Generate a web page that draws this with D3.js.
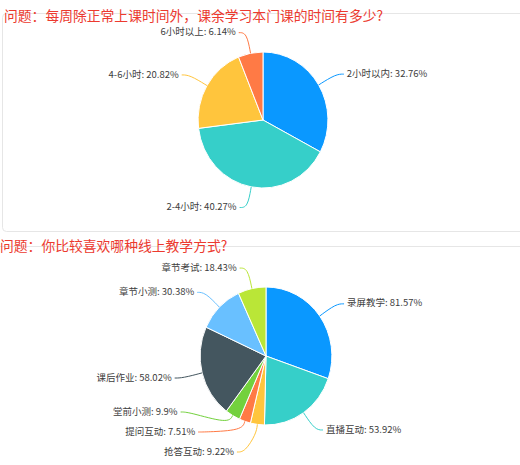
<!DOCTYPE html>
<html>
<head>
<meta charset="utf-8">
<script src="https://cdn.jsdelivr.net/npm/d3@7"></script>
<style>
  html, body { margin: 0; padding: 0; background: #fff; }
  svg { display: block; font-family: "Noto Sans CJK SC", "Noto Sans", sans-serif; }
</style>
</head>
<body>
<svg id="chart" width="520" height="465"></svg>
<script>
// question 1
const q1Title = "问题：每周除正常上课时间外，课余学习本门课的时间有多少?"
const q1Categories = ["2小时以内", "2-4小时", "4-6小时", "6小时以上"]
const q1Values = [32.76, 40.27, 20.82, 6.14]

// question 2
const q2Title = "问题：你比较喜欢哪种线上教学方式?"
const q2Categories = ["录屏教学", "直播互动", "抢答互动", "提问互动", "堂前小测", "课后作业", "章节小测", "章节考试"]
const q2Values = [81.57, 53.92, 9.22, 7.51, 9.9, 58.02, 30.38, 18.43]

const q1Colors = ["#0a98ff", "#36cfc9", "#ffc53d", "#ff7a45"]
const q2Colors = ["#0a98ff", "#36cfc9", "#ffc53d", "#ff7a45", "#73d13d", "#44565f", "#69c0ff", "#bae637"]

const svg = d3.select("#chart")

// panels
svg.append("rect").attr("x", 2.5).attr("y", 13.5).attr("width", 530).attr("height", 218)
  .attr("rx", 4).attr("fill", "none").attr("stroke", "#e6e6e6")
svg.append("rect").attr("x", -10).attr("y", 246.5).attr("width", 540).attr("height", 240)
  .attr("fill", "none").attr("stroke", "#e6e6e6")

// titles
svg.append("text").attr("x", 4).attr("y", 17).attr("dominant-baseline", "middle")
  .attr("font-size", 13.8).attr("fill", "#ec3a2f").text(q1Title)
svg.append("text").attr("x", 0).attr("y", 247).attr("dominant-baseline", "middle")
  .attr("font-size", 13.8).attr("fill", "#ec3a2f").text(q2Title)

function drawPie(cats, vals, colors, cx, cy, r, sx, yMax) {
  const data = cats.map((c, i) => ({ cat: c, v: vals[i], color: colors[i] }))
  const arcs = d3.pie().sort(null).value(d => d.v)(data)
  const arcGen = d3.arc().innerRadius(0).outerRadius(r)

  const g = svg.append("g").attr("transform", `translate(${cx},${cy}) scale(${sx},1)`)
  g.selectAll("path").data(arcs).join("path")
    .attr("d", arcGen)
    .attr("fill", d => d.data.color)
    .attr("stroke", "#fff").attr("stroke-width", 1)
    .attr("vector-effect", "non-scaling-stroke")

  // label layout (outside labels, pushed apart when they overlap)
  const len1 = 21, len2 = 8, gap = 20
  const R1 = r + len1, Rm = R1 + 8.5
  const labels = arcs.map(a => {
    const mid = (a.startAngle + a.endAngle) / 2
    const ux = Math.sin(mid), uy = -Math.cos(mid)
    return {
      d: a.data, ux, uy,
      side: ux >= 0 ? 1 : -1,
      p0: [cx + sx * r * ux, cy + r * uy],
      p1: [cx + sx * R1 * ux, cy + R1 * uy],
      y0: cy + R1 * uy
    }
  })
  ;[1, -1].forEach(side => {
    const ls = labels.filter(l => l.side === side).sort((a, b) => a.y0 - b.y0)
    ls.forEach(l => l.y = l.y0)
    for (let i = 1; i < ls.length; i++) ls[i].y = Math.max(ls[i].y, ls[i - 1].y + gap)
    if (ls.length) ls[ls.length - 1].y = Math.min(ls[ls.length - 1].y, yMax)
    for (let i = ls.length - 2; i >= 0; i--) ls[i].y = Math.min(ls[i].y, ls[i + 1].y - gap)
  })

  const line = d3.line().curve(d3.curveBasis)
  labels.forEach(l => {
    let pts
    let p1 = l.p1
    if (Math.abs(l.y - l.y0) > 1) {
      const dy = l.y - cy
      p1 = [cx + l.side * sx * Math.sqrt(Math.max(0, Rm * Rm - dy * dy)), l.y]
      const pm = [cx + sx * (r + len1 * 0.45) * l.ux, cy + (r + len1 * 0.45) * l.uy]
      const p2 = [p1[0] + l.side * len2, l.y]
      pts = [l.p0, pm, p1, p2]
      l.p2 = p2
    } else {
      const p2 = [p1[0] + l.side * len2, p1[1]]
      pts = [l.p0, p1, p2]
      l.p2 = p2
    }
    svg.append("path").attr("d", line(pts))
      .attr("fill", "none").attr("stroke", l.d.color).attr("stroke-width", 1)
    svg.append("text")
      .attr("x", l.p2[0] + l.side * 3).attr("y", l.p2[1])
      .attr("text-anchor", l.side > 0 ? "start" : "end")
      .attr("dominant-baseline", "middle")
      .attr("font-size", 9.5).attr("fill", "#3d3d3d")
      .text(`${l.d.cat}: ${l.d.v}%`)
  })
}

drawPie(q1Categories, q1Values, q1Colors, 263, 120, 68, 0.955, 225)
drawPie(q2Categories, q2Values, q2Colors, 266, 356, 69, 0.955, 452)
</script>
</body>
</html>
